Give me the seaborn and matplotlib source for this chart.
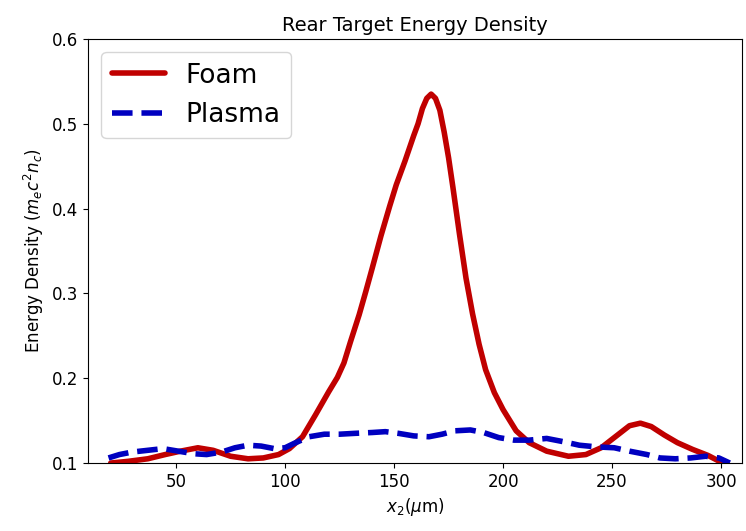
import pandas as pd
import seaborn as sns
import matplotlib.pyplot as plt

# Valores
x_foam = [20, 28, 37, 45, 52, 60, 67, 75, 83, 90, 97, 102, 108, 114, 120, 124, 127,
          130, 134, 137, 140, 144, 148, 151, 155, 159, 161, 163, 165, 167, 169, 171,
          173, 175, 177, 180, 183, 186, 189, 192, 196, 200, 206, 212, 220, 230, 238,
          245, 252, 258, 263, 268, 274, 280, 287, 294, 300]
y_foam = [0.100, 0.102, 0.105, 0.110, 0.114, 0.118, 0.115, 0.108, 0.105, 0.106, 0.110,
          0.117, 0.131, 0.157, 0.184, 0.201, 0.218, 0.243, 0.275, 0.302, 0.330, 0.368,
          0.403, 0.428, 0.456, 0.486, 0.500, 0.518, 0.530, 0.535, 0.530, 0.516, 0.490,
          0.460, 0.425, 0.370, 0.318, 0.276, 0.240, 0.210, 0.183, 0.163, 0.138, 0.124,
          0.114, 0.108, 0.110, 0.118, 0.132, 0.144, 0.147, 0.143, 0.133, 0.124, 0.116,
          0.109, 0.101]

x_plasma = [19, 24, 30, 37, 44, 51, 58, 64, 71, 77, 83, 89, 95, 100, 104, 111, 118,
            125, 132, 140, 146, 152, 159, 166, 172, 178, 185, 191, 198, 205, 212, 220,
            228, 235, 243, 251, 258, 266, 272, 279, 286, 293, 299, 304]
y_plasma = [0.106, 0.110, 0.113, 0.115, 0.117, 0.114, 0.111, 0.110, 0.113, 0.118, 0.121,
            0.120, 0.117, 0.118, 0.123, 0.131, 0.134, 0.134, 0.135, 0.136, 0.137, 0.135,
            0.132, 0.131, 0.134, 0.138, 0.139, 0.136, 0.130, 0.127, 0.127, 0.129, 0.125,
            0.121, 0.119, 0.118, 0.114, 0.110, 0.106, 0.105, 0.106, 0.108, 0.106, 0.100]

foam = pd.DataFrame({'x': x_foam, 'y': y_foam})
plasma = pd.DataFrame({'x': x_plasma, 'y': y_plasma})

sns.set_style("ticks", {'axes.edgecolor': 'black', 'text.color': 'black',
                        'axes.labelcolor': 'black', 'xtick.color': 'black',
                        'ytick.color': 'black'})
plt.rcParams['font.family'] = ['DejaVu Sans']

fig, ax = plt.subplots(figsize=(7.46, 5.31), dpi=100)
fig.subplots_adjust(left=0.118, right=0.9946, top=0.9266, bottom=0.128)

sns.lineplot(data=foam, x='x', y='y', ax=ax, color='#c00000', linewidth=4, label='Foam')
sns.lineplot(data=plasma, x='x', y='y', ax=ax, color='#0000c0', linewidth=4,
             linestyle='--', dashes=(3, 2), label='Plasma')

ax.set_xlim(9.6, 309.6)
ax.set_ylim(0.1, 0.6)
ax.set_xticks([50, 100, 150, 200, 250, 300])
ax.set_yticks([0.1, 0.2, 0.3, 0.4, 0.5, 0.6])
ax.tick_params(labelsize=12)
ax.set_title("Rear Target Energy Density", fontsize=14)
ax.set_xlabel(r"$x_2(\mu$m)", fontsize=12)
ax.set_ylabel(r"Energy Density ($m_ec^2n_c$)", fontsize=12)
ax.legend(loc='upper left', fontsize=19, handlelength=2)

plt.savefig("out.png")
plt.close()
